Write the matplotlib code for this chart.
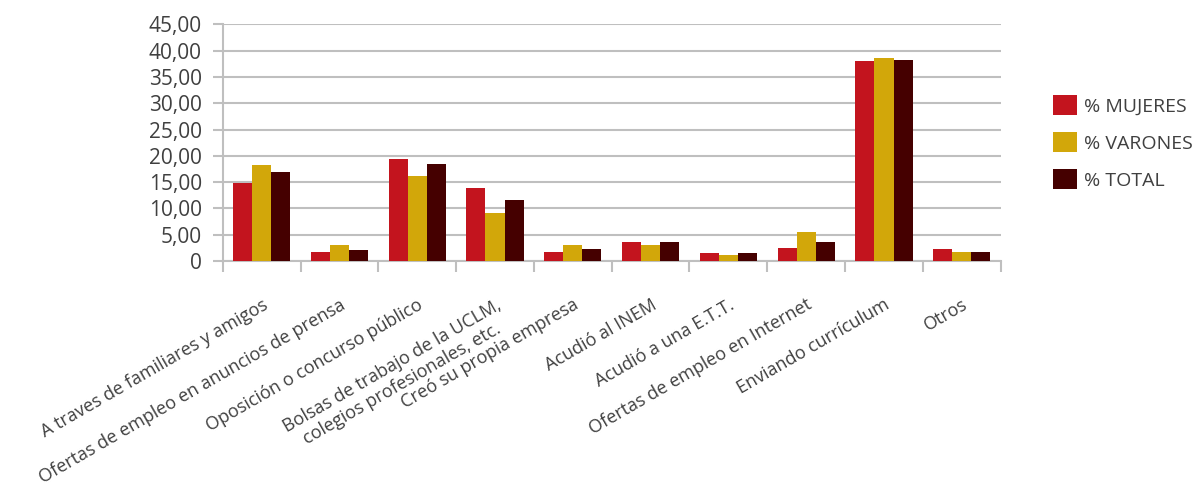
import numpy as np
import matplotlib.pyplot as plt
from matplotlib.ticker import FuncFormatter

plt.rcParams['font.family'] = ['Open Sans', 'DejaVu Sans']

categorias = [
    "A traves de familiares y amigos",
    "Ofertas de empleo en anuncios de prensa",
    "Oposición o concurso público",
    "Bolsas de trabajo de la UCLM,\ncolegios profesionales, etc.",
    "Creó su propia empresa",
    "Acudió al INEM",
    "Acudió a una E.T.T.",
    "Ofertas de empleo en Internet",
    "Enviando currículum",
    "Otros",
]
mujeres = [14.9, 1.7, 19.4, 13.9, 1.7, 3.6, 1.5, 2.5, 38.0, 2.3]
varones = [18.25, 3.0, 16.2, 9.2, 3.0, 3.0, 1.1, 5.5, 38.6, 1.7]
total = [16.9, 2.1, 18.4, 11.6, 2.3, 3.6, 1.5, 3.6, 38.2, 1.7]
series = ["% MUJERES", "% VARONES", "% TOTAL"]
colores = ["#C3141E", "#D2A70A", "#450000"]

fig = plt.figure(figsize=(11.98, 4.92), dpi=100)
ax = fig.add_axes([0.1859, 0.4695, 0.6494, 0.4811])

x = np.arange(len(categorias))
w = 0.245
for i, (vals, nombre, col) in enumerate(zip([mujeres, varones, total], series, colores)):
    ax.bar(x + (i - 1) * w, vals, w, color=col, label=nombre, zorder=3)

ax.set_xlim(-0.5, len(categorias) - 0.5)
ax.set_ylim(0, 45)
ax.set_yticks(np.arange(0, 46, 5))
ax.yaxis.set_major_formatter(FuncFormatter(lambda v, p: "0" if v == 0 else ("%.2f" % v).replace(".", ",")))
ax.grid(axis='y', color='#BFBFBF', linewidth=1.5, zorder=0)

for s in ['top', 'right']:
    ax.spines[s].set_visible(False)
for s in ['left', 'bottom']:
    ax.spines[s].set_color('#BFBFBF')
    ax.spines[s].set_linewidth(1.5)

ax.tick_params(axis='y', length=7, width=1.5, color='#BFBFBF', pad=8,
               labelsize=15, labelcolor='#404040')
ax.set_xticks(np.arange(-0.5, len(categorias)), minor=True)
ax.tick_params(axis='x', which='minor', length=8, width=1.5, color='#BFBFBF')
ax.set_xticks(x)
ax.set_xticklabels(categorias, rotation=30, ha='right', va='top',
                   rotation_mode='anchor', multialignment='center')
ax.tick_params(axis='x', which='major', length=0, pad=25,
               labelsize=13, labelcolor='#404040')

leg = ax.legend(loc='center left', bbox_to_anchor=(1.045, 0.5), frameon=False,
                fontsize=14, handlelength=1.2, handleheight=1.2,
                handletextpad=0.4, labelspacing=0.85)
for t in leg.get_texts():
    t.set_color('#404040')

fig.savefig("out.png", dpi=100)
